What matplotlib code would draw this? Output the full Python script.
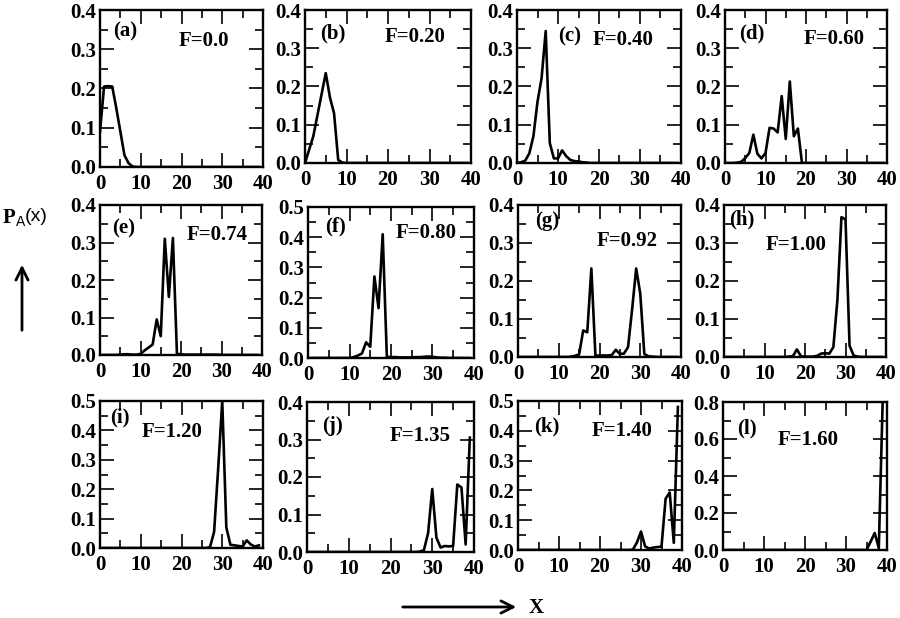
import numpy as np
import matplotlib
matplotlib.use('Agg')
import matplotlib.pyplot as plt
from matplotlib.ticker import MultipleLocator, FormatStrFormatter
from matplotlib.patches import FancyArrowPatch

plt.rcParams['font.family'] = ['Liberation Serif', 'DejaVu Serif']
plt.rcParams['font.weight'] = 'bold'

# ---------------- data ----------------
x_sites = list(range(40))

pa_a = [0.090, 0.205, 0.206, 0.205, 0.150, 0.090, 0.030, 0.010, 0.001, 0.000,
        0, 0, 0, 0, 0, 0, 0, 0, 0, 0,
        0, 0, 0, 0, 0, 0, 0, 0, 0, 0,
        0, 0, 0, 0, 0, 0, 0, 0, 0, 0]
pa_b = [0.000, 0.035, 0.070, 0.125, 0.180, 0.235, 0.172, 0.130, 0.008, 0.001,
        0, 0, 0, 0, 0, 0, 0, 0, 0, 0,
        0, 0, 0, 0, 0, 0, 0, 0, 0, 0,
        0, 0, 0, 0, 0, 0, 0, 0, 0, 0]
pa_c = [0.000, 0.002, 0.006, 0.025, 0.070, 0.160, 0.222, 0.345, 0.052, 0.012,
        0.012, 0.033, 0.018, 0.008, 0.005, 0.004, 0.002, 0.001, 0.000, 0.000,
        0, 0, 0, 0, 0, 0, 0, 0, 0, 0,
        0, 0, 0, 0, 0, 0, 0, 0, 0, 0]
pa_d = [0.000, 0.000, 0.000, 0.001, 0.003, 0.013, 0.026, 0.074, 0.024, 0.012,
        0.026, 0.092, 0.090, 0.080, 0.175, 0.063, 0.213, 0.070, 0.090, 0.000,
        0, 0, 0, 0, 0, 0, 0, 0, 0, 0,
        0, 0, 0, 0, 0, 0, 0, 0, 0, 0]
pa_e = [0.000, 0.000, 0.000, 0.000, 0.000, 0.001, 0.002, 0.002, 0.001, 0.001,
        0.003, 0.012, 0.020, 0.028, 0.095, 0.050, 0.310, 0.155, 0.312, 0.003,
        0.002, 0.001, 0.001, 0.001, 0.001, 0.001, 0.001, 0.001, 0.001, 0.001,
        0, 0, 0, 0, 0, 0, 0, 0, 0, 0]
pa_f = [0, 0, 0, 0, 0, 0, 0, 0, 0, 0,
        0.000, 0.003, 0.008, 0.015, 0.052, 0.037, 0.270, 0.165, 0.410, 0.004,
        0.003, 0.003, 0.002, 0.002, 0.002, 0.002, 0.003, 0.003, 0.004, 0.005,
        0.004, 0.002, 0.001, 0.001, 0, 0, 0, 0, 0, 0]
pa_g = [0, 0, 0, 0, 0, 0, 0, 0, 0, 0,
        0, 0, 0, 0.001, 0.003, 0.007, 0.070, 0.065, 0.233, 0.003,
        0.004, 0.004, 0.004, 0.005, 0.019, 0.008, 0.009, 0.026, 0.125, 0.233,
        0.167, 0.008, 0.002, 0.001, 0, 0, 0, 0, 0, 0]
pa_h = [0, 0, 0, 0, 0, 0, 0, 0, 0, 0,
        0, 0, 0, 0, 0, 0, 0.001, 0.002, 0.020, 0.002,
        0.001, 0.001, 0.001, 0.003, 0.009, 0.010, 0.009, 0.026, 0.150, 0.368,
        0.362, 0.030, 0.004, 0.001, 0, 0, 0, 0, 0, 0]
pa_i = [0, 0, 0, 0, 0, 0, 0, 0, 0, 0,
        0, 0, 0, 0, 0, 0, 0, 0, 0, 0,
        0, 0, 0, 0, 0, 0, 0, 0.003, 0.055, 0.270,
        0.500, 0.070, 0.011, 0.009, 0.007, 0.005, 0.026, 0.012, 0.005, 0.009]
pa_j = [0, 0, 0, 0, 0, 0, 0, 0, 0, 0,
        0, 0, 0, 0, 0, 0, 0, 0, 0, 0,
        0, 0, 0, 0, 0, 0, 0, 0.001, 0.005, 0.050,
        0.168, 0.038, 0.012, 0.016, 0.015, 0.016, 0.180, 0.172, 0.020, 0.305]
pa_k = [0, 0, 0, 0, 0, 0, 0, 0, 0, 0,
        0, 0, 0, 0, 0, 0, 0, 0, 0, 0,
        0, 0, 0, 0, 0, 0, 0, 0, 0.001, 0.025,
        0.062, 0.012, 0.005, 0.008, 0.010, 0.011, 0.172, 0.193, 0.024, 0.480]
pa_l = [0, 0, 0, 0, 0, 0, 0, 0, 0, 0,
        0, 0, 0, 0, 0, 0, 0, 0, 0, 0,
        0, 0, 0, 0, 0, 0, 0, 0, 0, 0,
        0, 0, 0, 0, 0, 0, 0.045, 0.092, 0.010, 0.850]

series = [pa_a, pa_b, pa_c, pa_d, pa_e, pa_f, pa_g, pa_h, pa_i, pa_j, pa_k, pa_l]
panel_letters = ['(a)', '(b)', '(c)', '(d)', '(e)', '(f)',
                 '(g)', '(h)', '(i)', '(j)', '(k)', '(l)']
force_labels = ['F=0.0', 'F=0.20', 'F=0.40', 'F=0.60', 'F=0.74', 'F=0.80',
                'F=0.92', 'F=1.00', 'F=1.20', 'F=1.35', 'F=1.40', 'F=1.60']
y_max = [0.4, 0.4, 0.4, 0.4, 0.4, 0.5, 0.4, 0.4, 0.5, 0.4, 0.5, 0.8]
y_major = [0.1, 0.1, 0.1, 0.1, 0.1, 0.1, 0.1, 0.1, 0.1, 0.1, 0.1, 0.2]
y_minor = [0.05, 0.05, 0.05, 0.05, 0.05, 0.05, 0.05, 0.05, 0.05, 0.05, 0.05, 0.1]

# ---------------- layout (pixels, top-left origin) ----------------
W, H = 900, 618
rects = [(100, 10, 263, 167), (305, 10, 471, 163), (517, 10, 681, 163), (725, 10, 887, 163),
         (100, 205, 262, 355), (308, 207, 474, 358), (518, 205, 681, 357), (724, 205, 886, 357),
         (100, 401, 263, 548), (307, 402, 474, 552), (518, 401, 682, 550), (723, 402, 887, 550)]
letter_pos = [(113, 30), (320, 32), (558, 35), (739, 32),
              (112, 227), (325, 225), (535, 220), (729, 218),
              (110, 416), (322, 425), (534, 425), (737, 427)]
force_pos = [(179, 39), (385, 35), (593, 38), (804, 37),
             (187, 233), (396, 231), (597, 239), (766, 243),
             (142, 430), (390, 434), (592, 429), (778, 438)]

FS = 15


def fx(px):
    return px / W


def fy(py):
    return 1 - py / H


fig = plt.figure(figsize=(9, 6.18), dpi=100)

for k in range(12):
    l, t, r, b = rects[k]
    ax = fig.add_axes([fx(l), fy(b), (r - l) / W, (b - t) / H])
    ax.plot(x_sites, series[k], color='black', lw=1.9)
    ax.set_xlim(0, 40)
    ax.set_ylim(0, y_max[k])
    ax.xaxis.set_major_locator(MultipleLocator(10))
    ax.xaxis.set_minor_locator(MultipleLocator(5))
    ax.yaxis.set_major_locator(MultipleLocator(y_major[k]))
    ax.yaxis.set_minor_locator(MultipleLocator(y_minor[k]))
    ax.yaxis.set_major_formatter(FormatStrFormatter('%.1f'))
    ax.xaxis.set_major_formatter(FormatStrFormatter('%d'))
    ax.tick_params(which='both', direction='in', top=True, right=True,
                   width=1.2, labelsize=FS)
    ax.tick_params(which='major', length=10)
    ax.tick_params(which='minor', length=5.5)
    ax.tick_params(axis='y', pad=3)
    ax.tick_params(axis='x', pad=5)
    for sp in ax.spines.values():
        sp.set_linewidth(1.7)

    lx, ly = letter_pos[k]
    fig.text(fx(lx), fy(ly + 1), panel_letters[k], ha='left', va='center',
             fontsize=FS, fontweight='bold')
    gx, gy = force_pos[k]
    fig.text(fx(gx), fy(gy + 2), force_labels[k], ha='left', va='center',
             fontsize=FS, fontweight='bold')

# y-axis label P_A(x) with arrow
fig.text(fx(3), fy(223), 'P', ha='left', va='baseline', fontsize=FS, fontweight='bold')
fig.text(fx(16), fy(226), 'A', ha='left', va='baseline', fontsize=10,
         fontweight='normal', family=['Liberation Sans', 'DejaVu Sans'])
fig.text(fx(25), fy(221), '(x)', ha='left', va='baseline', fontsize=14,
         fontweight='normal', family=['Liberation Sans', 'DejaVu Sans'])
fig.add_artist(FancyArrowPatch((fx(22), fy(333)), (fx(22), fy(262)),
                               transform=fig.transFigure, arrowstyle='->',
                               mutation_scale=22, lw=2, color='black'))

# x-axis label with arrow
fig.add_artist(FancyArrowPatch((fx(400), fy(607)), (fx(519), fy(607)),
                               transform=fig.transFigure, arrowstyle='->',
                               mutation_scale=22, lw=2, color='black'))
fig.text(fx(529), fy(608), 'X', ha='left', va='center', fontsize=15, fontweight='bold')

fig.savefig('out.png', dpi=100)
